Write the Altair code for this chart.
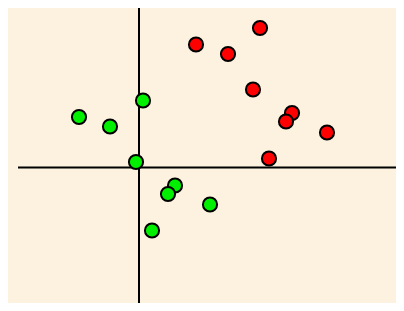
import altair as alt
import pandas as pd

# Values (arbitrary units, origin at the crossing of the axes)
red_x = [5.7, 8.9, 12.1, 11.4, 15.3, 14.7, 18.8, 13.0]
red_y = [12.3, 11.35, 13.95, 7.8, 5.45, 4.6, 3.5, 0.9]
green_x = [0.4, -6.0, -2.9, -0.3, 3.6, 2.9, 7.1, 1.3]
green_y = [6.7, 5.05, 4.1, 0.55, -1.8, -2.65, -3.7, -6.3]

# Axis line extents
h_axis_x = [-12.1, 26.5]
v_axis_y = [-14.5, 16.5]

x_domain = [-13.1, 25.7]
y_domain = [-13.55, 15.95]

points = pd.DataFrame({
    "x": red_x + green_x,
    "y": red_y + green_y,
    "group": ["red"] * len(red_x) + ["green"] * len(green_x),
    "order": list(range(len(red_x) + len(green_x))),
})

xs = alt.Scale(domain=x_domain, nice=False, zero=False)
ys = alt.Scale(domain=y_domain, nice=False, zero=False)

hline = alt.Chart(pd.DataFrame({"x": [h_axis_x[0]], "x2": [h_axis_x[1]], "y": [0]})).mark_rule(
    color="black", strokeWidth=2, clip=True
).encode(
    x=alt.X("x:Q", scale=xs, axis=None),
    x2="x2:Q",
    y=alt.Y("y:Q", scale=ys, axis=None),
)

vline = alt.Chart(pd.DataFrame({"y": [v_axis_y[0]], "y2": [v_axis_y[1]], "x": [0]})).mark_rule(
    color="black", strokeWidth=2, clip=True
).encode(
    x=alt.X("x:Q", scale=xs, axis=None),
    y=alt.Y("y:Q", scale=ys, axis=None),
    y2="y2:Q",
)

dots = alt.Chart(points).mark_circle(
    size=200, opacity=1, stroke="black", strokeWidth=2
).encode(
    x=alt.X("x:Q", scale=xs, axis=None),
    y=alt.Y("y:Q", scale=ys, axis=None),
    color=alt.Color("group:N", scale=alt.Scale(domain=["red", "green"], range=["#FF0000", "#00F000"]), legend=None),
    order="order:Q",
)

chart = alt.layer(hline, vline, dots).properties(
    width=388, height=295, padding=0, background="#FCF2DF"
).configure_view(stroke=None)

chart.save("out.html", embed_options={"renderer": "svg", "actions": False})
